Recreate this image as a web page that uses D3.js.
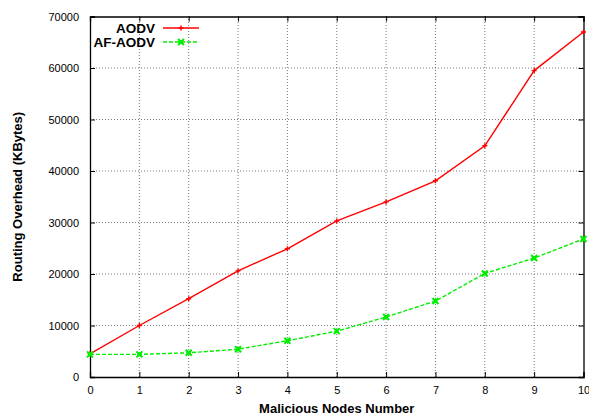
<!DOCTYPE html>
<html><head><meta charset="utf-8">
<script src="https://cdn.jsdelivr.net/npm/d3@7"></script>
<style>body{margin:0;background:#fff}svg{display:block}</style>
</head><body>
<script>
const nodes = [0,1,2,3,4,5,6,7,8,9,10];
const aodv = [4500,10000,15200,20600,24900,30300,34000,38100,44900,59500,67000];
const afaodv = [4400,4400,4700,5400,7050,8900,11650,14750,20100,23100,26800];
const yTicks = [0,10000,20000,30000,40000,50000,60000,70000];
const seriesNames = ["AODV","AF-AODV"];
const colors = ["#ff0000","#00ee00"];

const W=589,H=416;
const m={l:90,r:5.5,t:16.5,b:39};
const svg=d3.select("body").append("svg").attr("width",W).attr("height",H);
const x=d3.scaleLinear().domain([0,10]).range([m.l,W-m.r]);
const y=d3.scaleLinear().domain([0,70000]).range([H-m.b,m.t]);
const font="'Liberation Sans', Arial, Helvetica, sans-serif";

// grid
const g=svg.append("g");
nodes.slice(1,-1).forEach(v=>{
  g.append("line").attr("x1",x(v)).attr("x2",x(v)).attr("y1",y(0)).attr("y2",y(70000))
   .attr("stroke","#555").attr("stroke-width",0.8).attr("stroke-dasharray","1,2");
});
yTicks.slice(1,-1).forEach(v=>{
  g.append("line").attr("x1",x(0)).attr("x2",x(10)).attr("y1",y(v)).attr("y2",y(v))
   .attr("stroke","#555").attr("stroke-width",0.8).attr("stroke-dasharray","1,2");
});

// axes
const xa=svg.append("g").attr("transform",`translate(0,${y(0)})`)
  .call(d3.axisBottom(x).tickValues(nodes).tickFormat(d3.format("d")).tickSize(-5).tickPadding(9));
const xt=svg.append("g").attr("transform",`translate(0,${y(70000)})`)
  .call(d3.axisTop(x).tickValues(nodes).tickFormat("").tickSize(-5));
const ya=svg.append("g").attr("transform",`translate(${x(0)},0)`)
  .call(d3.axisLeft(y).tickValues(yTicks).tickFormat(d3.format("d")).tickSize(-5).tickPadding(11));
const yr=svg.append("g").attr("transform",`translate(${x(10)},0)`)
  .call(d3.axisRight(y).tickValues(yTicks).tickFormat("").tickSize(-5));
[xa,xt,ya,yr].forEach(a=>{
  a.select(".domain").attr("stroke","#000").attr("stroke-width",1.3);
  a.selectAll(".tick line").attr("stroke","#000").attr("stroke-width",1);
  a.selectAll("text").attr("font-family",font).attr("font-size",11).attr("fill","#000");
});

// lines
const line=d3.line().x((d,i)=>x(nodes[i])).y(d=>y(d));
[aodv,afaodv].forEach((s,k)=>{
  svg.append("path").datum(s).attr("d",line).attr("fill","none")
    .attr("stroke",colors[k]).attr("stroke-width",1.4)
    .attr("stroke-dasharray",k===1?"4,2":null);
  s.forEach((v,i)=>{
    const cx=x(nodes[i]),cy=y(v);
    if(k===0){
      svg.append("path").attr("d",`M${cx-2.5},${cy}H${cx+2.5}M${cx},${cy-2.5}V${cy+2.5}`)
        .attr("stroke",colors[0]).attr("stroke-width",1.4);
    } else {
      svg.append("path").attr("d",`M${cx-3},${cy-3}L${cx+3},${cy+3}M${cx-3},${cy+3}L${cx+3},${cy-3}`)
        .attr("stroke",colors[1]).attr("stroke-width",2);
      svg.append("rect").attr("x",cx-2).attr("y",cy-2).attr("width",4).attr("height",4).attr("fill",colors[1]);
    }
  });
});

// legend
seriesNames.forEach((n,k)=>{
  const ly=28+k*14;
  svg.append("text").attr("x",155).attr("y",ly+5).attr("text-anchor","end")
    .attr("font-family",font).attr("font-weight","bold").attr("font-size",13.5).text(n);
  svg.append("line").attr("x1",163).attr("x2",199).attr("y1",ly).attr("y2",ly)
    .attr("stroke",colors[k]).attr("stroke-width",1.4).attr("stroke-dasharray",k===1?"4,2":null);
  const cx=181;
  if(k===0){
    svg.append("path").attr("d",`M${cx-2.5},${ly}H${cx+2.5}M${cx},${ly-2.5}V${ly+2.5}`).attr("stroke",colors[0]).attr("stroke-width",1.4);
  } else {
    svg.append("path").attr("d",`M${cx-3},${ly-3}L${cx+3},${ly+3}M${cx-3},${ly+3}L${cx+3},${ly-3}`).attr("stroke",colors[1]).attr("stroke-width",2);
    svg.append("rect").attr("x",cx-2).attr("y",ly-2).attr("width",4).attr("height",4).attr("fill",colors[1]);
  }
});

// titles
svg.append("text").attr("x",(x(0)+x(10))/2).attr("y",413).attr("text-anchor","middle")
  .attr("font-family",font).attr("font-weight","bold").attr("font-size",13).text("Malicious Nodes Number");
svg.append("text").attr("transform",`translate(22,${(y(0)+y(70000))/2}) rotate(-90)`).attr("text-anchor","middle")
  .attr("font-family",font).attr("font-weight","bold").attr("font-size",13).text("Routing Overhead (KBytes)");
</script>
</body></html>
